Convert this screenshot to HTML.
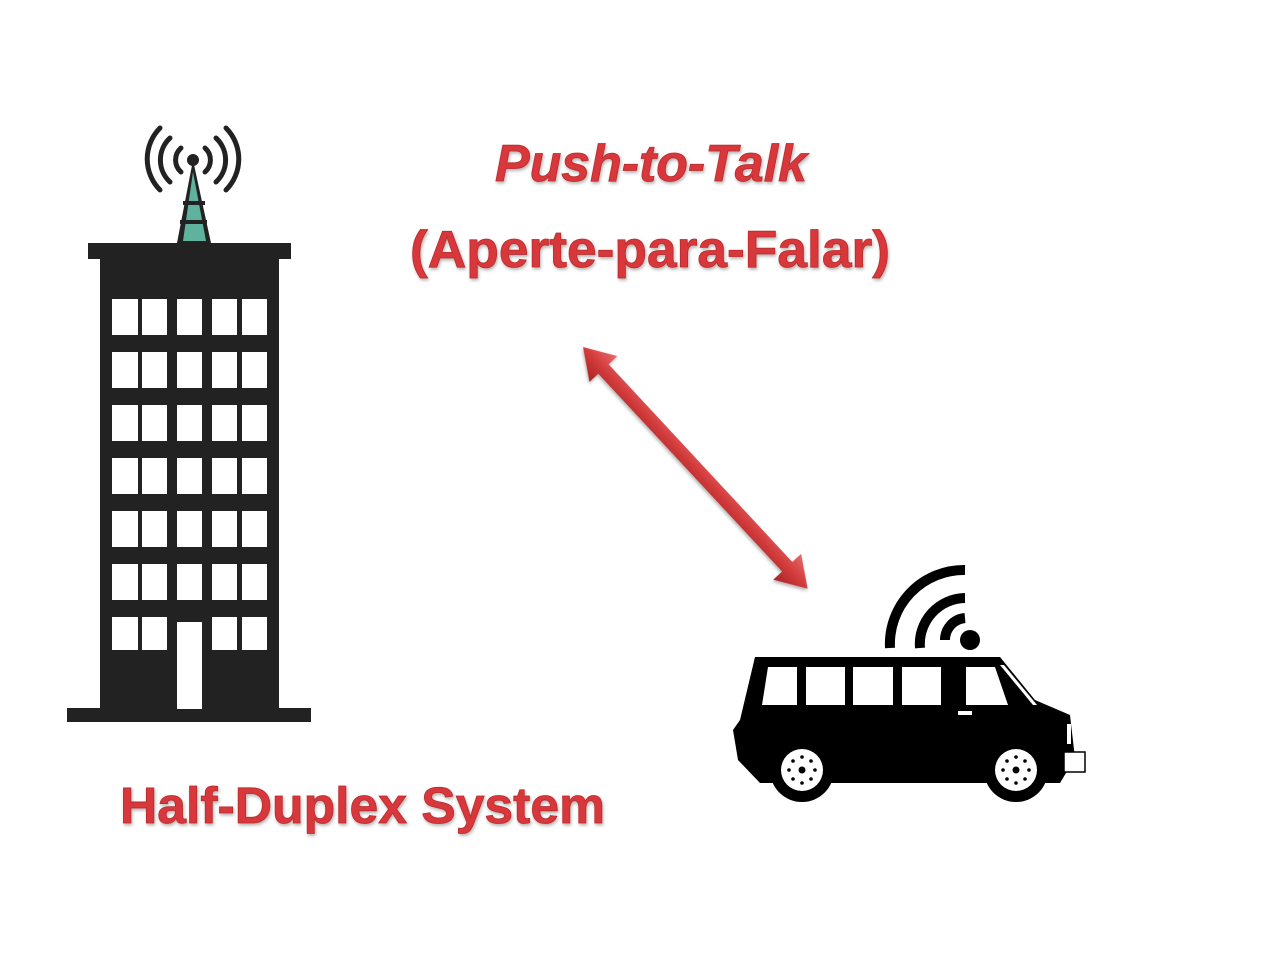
<!DOCTYPE html>
<html><head><meta charset="utf-8"><style>
html,body{margin:0;padding:0;background:#fff;}
svg{display:block}
</style></head><body>
<svg width="1268" height="972" viewBox="0 0 1268 972" xmlns="http://www.w3.org/2000/svg">
<defs>
<linearGradient id="ag" x1="0" y1="0" x2="0" y2="1">
<stop offset="0" stop-color="#e86a6a"/><stop offset="0.5" stop-color="#d23b3b"/><stop offset="1" stop-color="#a82424"/>
</linearGradient>
<filter id="sh" x="-10%" y="-10%" width="130%" height="140%">
<feGaussianBlur in="SourceAlpha" stdDeviation="1.5"/><feOffset dx="1" dy="2" result="b"/>
<feFlood flood-color="#000" flood-opacity="0.3"/><feComposite in2="b" operator="in"/>
<feMerge><feMergeNode/><feMergeNode in="SourceGraphic"/></feMerge>
</filter>
</defs>
<rect width="1268" height="972" fill="#fff"/>

<!-- building -->
<g fill="#222">
<rect x="88" y="243" width="203" height="16"/>
<rect x="100" y="258" width="179" height="451"/>
<rect x="67" y="708" width="244" height="14"/>
</g>
<g fill="#fff">
<g id="row">
<rect x="112" y="299" width="26" height="36"/><rect x="142" y="299" width="25" height="36"/><rect x="177" y="299" width="25" height="36"/><rect x="212" y="299" width="25" height="36"/><rect x="242" y="299" width="25" height="36"/>
</g>
<use href="#row" y="53"/><use href="#row" y="106"/><use href="#row" y="159"/><use href="#row" y="212"/><use href="#row" y="265"/>
<rect x="112" y="617" width="26" height="33"/><rect x="142" y="617" width="25" height="33"/><rect x="212" y="617" width="25" height="33"/><rect x="242" y="617" width="25" height="33"/>
<rect x="177" y="622" width="25" height="87"/>
</g>
<!-- antenna -->
<polygon points="193,160 177,243 211,243" fill="#222"/>
<polygon points="193,172 183,241 206,241" fill="#5fb39e"/>
<rect x="183" y="201" width="22" height="4" fill="#222"/><rect x="180" y="220" width="27" height="4" fill="#222"/>
<circle cx="193" cy="160" r="6" fill="#222"/>
<g fill="none" stroke="#222" stroke-width="5" stroke-linecap="round">
<path d="M181 148 A16 16 0 0 0 181 172"/><path d="M205 148 A16 16 0 0 1 205 172"/>
<path d="M170 138 A30 30 0 0 0 170 182"/><path d="M216 138 A30 30 0 0 1 216 182"/>
<path d="M160 128 A44 44 0 0 0 160 190"/><path d="M226 128 A44 44 0 0 1 226 190"/>
</g>

<!-- arrow -->
<g transform="translate(583,347) rotate(47.1)" filter="url(#sh)">
<polygon points="0,0 30,-19 30,-7 300,-7 300,-19 330,0 300,19 300,7 30,7 30,19" fill="url(#ag)"/>
</g>

<!-- van -->
<g fill="#000">
<path d="M755 657 L1000 657 L1035 700 L1070 715 L1075 758 L1060 783 L760 783 L738 760 L733 730 L740 720 Z"/>
<circle cx="802" cy="770" r="32"/><circle cx="1016" cy="770" r="32"/>
<circle cx="970" cy="640" r="10"/>
</g>
<g fill="none" stroke="#000" stroke-width="10">
<path d="M945 640 A22 22 0 0 1 965 618"/>
<path d="M920 648 A46 46 0 0 1 965 598"/>
<path d="M890 648 A74 74 0 0 1 965 570"/>
</g>
<g fill="#fff">
<polygon points="768,667 797,667 797,705 762,705"/>
<rect x="806" y="667" width="39" height="38"/><rect x="853" y="667" width="40" height="38"/><rect x="902" y="667" width="39" height="38"/>
<polygon points="966,667 995,667 1008,705 966,705"/>
<polygon points="1000,665 1004,665 1037,705 1033,705"/>
<rect x="1064" y="752" width="21" height="20" stroke="#000" stroke-width="1.5"/>
<rect x="1067" y="724" width="4" height="20"/>
<rect x="958" y="711" width="14" height="4"/>
<circle cx="802" cy="770" r="21"/><circle cx="1016" cy="770" r="21"/>
</g>
<g fill="#000">
<circle cx="802" cy="770" r="3.5"/><circle cx="1016" cy="770" r="3.5"/>
<circle cx="802" cy="757" r="1.8"/><circle cx="802" cy="783" r="1.8"/><circle cx="789" cy="770" r="1.8"/><circle cx="815" cy="770" r="1.8"/>
<circle cx="793" cy="761" r="1.8"/><circle cx="811" cy="761" r="1.8"/><circle cx="793" cy="779" r="1.8"/><circle cx="811" cy="779" r="1.8"/>
<circle cx="1016" cy="757" r="1.8"/><circle cx="1016" cy="783" r="1.8"/><circle cx="1003" cy="770" r="1.8"/><circle cx="1029" cy="770" r="1.8"/>
<circle cx="1007" cy="761" r="1.8"/><circle cx="1025" cy="761" r="1.8"/><circle cx="1007" cy="779" r="1.8"/><circle cx="1025" cy="779" r="1.8"/>
</g>

<!-- text -->
<g font-family="'Liberation Sans', sans-serif" font-weight="bold" fill="#d8383a" stroke="#b82a2c" stroke-width="0.8" filter="url(#sh)">
<text x="495" y="181" font-size="52" font-style="italic" textLength="312" lengthAdjust="spacingAndGlyphs">Push-to-Talk</text>
<text x="410" y="267" font-size="52" textLength="480" lengthAdjust="spacingAndGlyphs">(Aperte-para-Falar)</text>
<text x="120" y="823" font-size="51" textLength="485" lengthAdjust="spacingAndGlyphs">Half-Duplex System</text>
</g>
</svg>
</body></html>
